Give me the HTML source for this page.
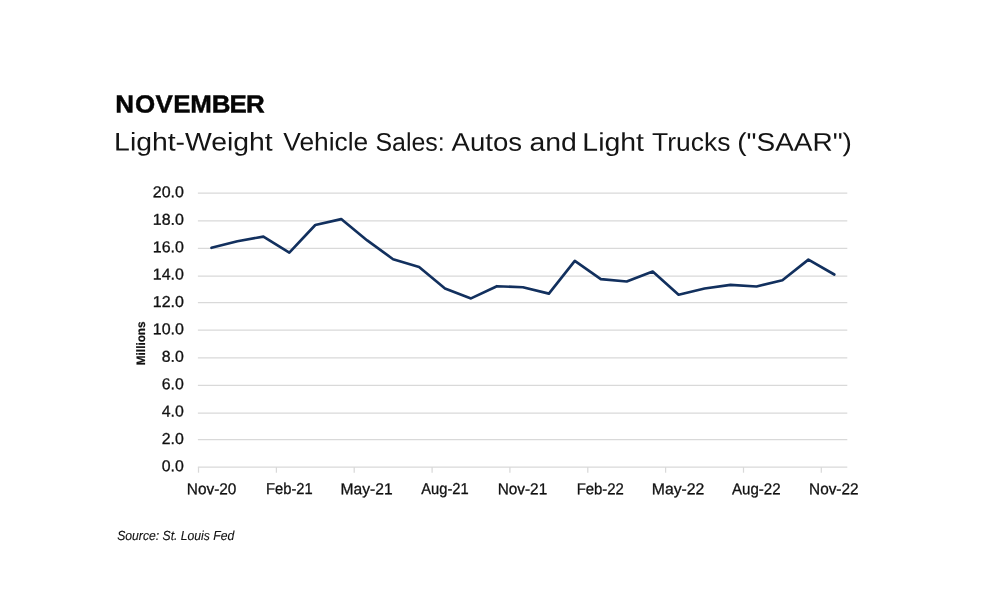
<!DOCTYPE html>
<html lang="en"><head><meta charset="utf-8"><title>November Light-Weight Vehicle Sales</title>
<style>
html,body{margin:0;padding:0;background:#fff;}
body{width:1000px;height:609px;overflow:hidden;font-family:"Liberation Sans",sans-serif;}
svg{display:block;}
svg text{font-family:"Liberation Sans",sans-serif;fill:#111;text-rendering:geometricPrecision;}
.grid line{stroke:#d9d9d9;stroke-width:1.25;}
.ttl{font-weight:bold;fill:#050505;stroke:#050505;stroke-width:0.45;}
.sub text{font-size:25.6px;fill:#141414;}
.lab text{font-size:15.8px;fill:#111;stroke:#111;stroke-width:0.3;}
.src text{font-size:13.1px;font-style:italic;fill:#111;stroke:#111;stroke-width:0.12;}
.mil{font-size:12.2px;font-weight:bold;fill:#111;stroke:#111;stroke-width:0.2;}
</style></head><body>
<svg width="1000" height="609" viewBox="0 0 1000 609">
<rect width="1000" height="609" fill="#ffffff"/>
<g class="grid">
<line x1="197.9" y1="467.05" x2="847.3" y2="467.05"/>
<line x1="197.9" y1="439.50" x2="847.3" y2="439.50"/>
<line x1="197.9" y1="413.00" x2="847.3" y2="413.00"/>
<line x1="197.9" y1="385.40" x2="847.3" y2="385.40"/>
<line x1="197.9" y1="357.80" x2="847.3" y2="357.80"/>
<line x1="197.9" y1="330.05" x2="847.3" y2="330.05"/>
<line x1="197.9" y1="302.50" x2="847.3" y2="302.50"/>
<line x1="197.9" y1="276.00" x2="847.3" y2="276.00"/>
<line x1="197.9" y1="248.30" x2="847.3" y2="248.30"/>
<line x1="197.9" y1="220.80" x2="847.3" y2="220.80"/>
<line x1="197.9" y1="193.05" x2="847.3" y2="193.05"/>
<line x1="198.5" y1="467.1" x2="198.5" y2="472.7"/>
<line x1="276.4" y1="467.1" x2="276.4" y2="472.7"/>
<line x1="354.2" y1="467.1" x2="354.2" y2="472.7"/>
<line x1="432.1" y1="467.1" x2="432.1" y2="472.7"/>
<line x1="509.9" y1="467.1" x2="509.9" y2="472.7"/>
<line x1="587.8" y1="467.1" x2="587.8" y2="472.7"/>
<line x1="665.6" y1="467.1" x2="665.6" y2="472.7"/>
<line x1="743.5" y1="467.1" x2="743.5" y2="472.7"/>
<line x1="821.3" y1="467.1" x2="821.3" y2="472.7"/>
</g>
<polyline fill="none" stroke="#12305e" stroke-width="2.65" stroke-linejoin="round" stroke-linecap="round" points="211.5,247.8 237.4,241.2 263.4,236.6 289.3,252.7 315.3,225.0 341.2,219.1 367.2,240.4 393.1,259.2 419.1,266.9 445.0,288.5 471.0,298.4 496.9,286.2 522.9,287.2 548.9,293.6 574.8,260.9 600.8,279.1 626.7,281.5 652.7,271.5 678.6,294.7 704.6,288.5 730.5,284.9 756.5,286.5 782.4,280.3 808.4,259.6 834.3,274.5"/>
<text class="ttl" transform="rotate(0.03 116 112.4) scale(1.05,1)" x="109.85 128.60 148.05 164.99 181.24 201.77 218.56 234.32" y="112.4" font-size="24.7">NOVEMBER</text>
<g class="sub">
<text transform="rotate(0.03 483 150.7)" y="150.7"><tspan x="114.13" textLength="158.55" lengthAdjust="spacingAndGlyphs">Light-Weight</tspan> <tspan x="283.32" textLength="84.89" lengthAdjust="spacingAndGlyphs">Vehicle</tspan> <tspan x="375.40" textLength="69.35" lengthAdjust="spacingAndGlyphs">Sales:</tspan> <tspan x="451.54" textLength="70.48" lengthAdjust="spacingAndGlyphs">Autos</tspan> <tspan x="529.40" textLength="47.40" lengthAdjust="spacingAndGlyphs">and</tspan> <tspan x="582.36" textLength="61.57" lengthAdjust="spacingAndGlyphs">Light</tspan> <tspan x="652.12" textLength="78.29" lengthAdjust="spacingAndGlyphs">Trucks</tspan> <tspan x="737.28" textLength="114.61" lengthAdjust="spacingAndGlyphs">(&quot;SAAR&quot;)</tspan></text>
</g>
<g class="lab">
<text transform="rotate(0.03 161.75 471.35)" x="161.75" y="471.35" textLength="22.05" lengthAdjust="spacingAndGlyphs">0.0</text>
<text transform="rotate(0.03 161.75 443.95)" x="161.75" y="443.95" textLength="22.05" lengthAdjust="spacingAndGlyphs">2.0</text>
<text transform="rotate(0.03 161.75 416.55)" x="161.75" y="416.55" textLength="22.05" lengthAdjust="spacingAndGlyphs">4.0</text>
<text transform="rotate(0.03 161.75 389.15)" x="161.75" y="389.15" textLength="22.05" lengthAdjust="spacingAndGlyphs">6.0</text>
<text transform="rotate(0.03 161.75 361.75)" x="161.75" y="361.75" textLength="22.05" lengthAdjust="spacingAndGlyphs">8.0</text>
<text transform="rotate(0.03 152.75 334.35)" x="152.75" y="334.35" textLength="31.15" lengthAdjust="spacingAndGlyphs">10.0</text>
<text transform="rotate(0.03 152.75 306.95)" x="152.75" y="306.95" textLength="31.15" lengthAdjust="spacingAndGlyphs">12.0</text>
<text transform="rotate(0.03 152.75 279.55)" x="152.75" y="279.55" textLength="31.15" lengthAdjust="spacingAndGlyphs">14.0</text>
<text transform="rotate(0.03 152.75 252.15)" x="152.75" y="252.15" textLength="31.15" lengthAdjust="spacingAndGlyphs">16.0</text>
<text transform="rotate(0.03 152.75 224.75)" x="152.75" y="224.75" textLength="31.15" lengthAdjust="spacingAndGlyphs">18.0</text>
<text transform="rotate(0.03 152.75 197.35)" x="152.75" y="197.35" textLength="31.15" lengthAdjust="spacingAndGlyphs">20.0</text>
<text transform="rotate(0.03 186.82 494.20)" x="186.82" y="494.20" textLength="49.62" lengthAdjust="spacingAndGlyphs">Nov-20</text>
<text transform="rotate(0.03 266.09 494.20)" x="266.09" y="494.20" textLength="46.65" lengthAdjust="spacingAndGlyphs">Feb-21</text>
<text transform="rotate(0.03 340.60 494.20)" x="340.60" y="494.20" textLength="52.01" lengthAdjust="spacingAndGlyphs">May-21</text>
<text transform="rotate(0.03 421.28 494.20)" x="421.28" y="494.20" textLength="47.44" lengthAdjust="spacingAndGlyphs">Aug-21</text>
<text transform="rotate(0.03 497.73 494.20)" x="497.73" y="494.20" textLength="49.48" lengthAdjust="spacingAndGlyphs">Nov-21</text>
<text transform="rotate(0.03 576.67 494.20)" x="576.67" y="494.20" textLength="47.22" lengthAdjust="spacingAndGlyphs">Feb-22</text>
<text transform="rotate(0.03 651.75 494.20)" x="651.75" y="494.20" textLength="52.60" lengthAdjust="spacingAndGlyphs">May-22</text>
<text transform="rotate(0.03 732.05 494.20)" x="732.05" y="494.20" textLength="48.56" lengthAdjust="spacingAndGlyphs">Aug-22</text>
<text transform="rotate(0.03 809.10 494.20)" x="809.10" y="494.20" textLength="49.44" lengthAdjust="spacingAndGlyphs">Nov-22</text>
</g>
<g class="src">
<text transform="rotate(0.03 117.20 540.40)" x="117.20" y="540.40" textLength="117.10" lengthAdjust="spacingAndGlyphs">Source: St. Louis Fed</text>
</g>
<text class="mil" transform="translate(145.0,365.2) rotate(-90)" textLength="43.8" lengthAdjust="spacingAndGlyphs">Millions</text>
</svg>
</body></html>
